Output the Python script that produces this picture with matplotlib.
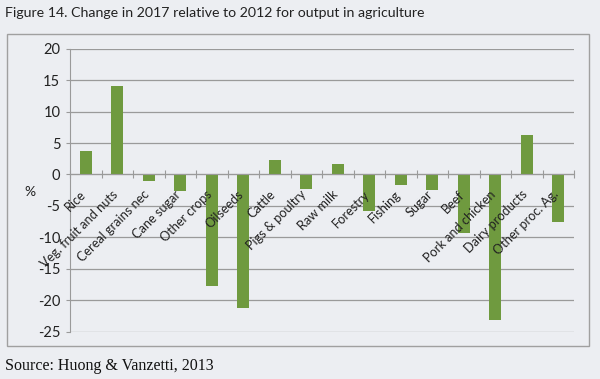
import numpy as np
import matplotlib
matplotlib.use("Agg")
import matplotlib.pyplot as plt
from matplotlib.patches import Rectangle

CATEGORIES = ["Rice", "Veg. fruit and nuts", "Cereal grains nec", "Cane sugar",
              "Other crops", "Oilseeds", "Cattle", "Pigs & poultry", "Raw milk",
              "Forestry", "Fishing", "Sugar", "Beef", "Pork and chicken",
              "Dairy products", "Other proc. Ag."]
CHANGE = [3.7, 14.1, -1.1, -2.7, -17.7, -21.3, 2.3, -2.3, 1.6,
          -5.8, -1.6, -2.5, -9.3, -23.1, 6.2, -7.6]
YTICKS = [20, 15, 10, 5, 0, -5, -10, -15, -20, -25]

BG = '#eceef2'
BAR = '#6f9a3f'
GRID = '#9a9a9a'

plt.rcParams['font.family'] = ['Lato', 'DejaVu Sans']

fig = plt.figure(figsize=(6.0, 3.79), dpi=100, facecolor=BG)
ax = fig.add_axes([70 / 600, 1 - 331.7 / 379, 504 / 600, (331.7 - 48.7) / 379])
ax.set_facecolor(BG)

x = np.arange(len(CATEGORIES))
ax.bar(x, CHANGE, width=0.37, color=BAR, zorder=3)

ax.set_xlim(-0.5, len(CATEGORIES) - 0.5)
ax.set_ylim(-25, 20)
ax.set_yticks(YTICKS)
ax.set_yticklabels([str(v) for v in YTICKS])
ax.yaxis.grid(True, color=GRID, linewidth=0.9, zorder=0)

for s in ['top', 'right']:
    ax.spines[s].set_visible(False)
ax.spines['left'].set_color(GRID)
ax.spines['bottom'].set_color(GRID)
ax.spines['bottom'].set_position(('data', 0))
ax.spines['bottom'].set_zorder(4)

ax.set_xticks(np.arange(len(CATEGORIES) + 1) - 0.5)
ax.set_xticklabels([])
ax.tick_params(axis='x', direction='inout', length=6, color=GRID)
ax.tick_params(axis='y', direction='out', length=3, color=GRID,
               labelsize=10.5, labelcolor='#222222', pad=4)

# category names sit along the zero line, rotated
for i, name in enumerate(CATEGORIES):
    ax.annotate(name, xy=(i - 0.05, 0), xytext=(0, -13), textcoords='offset points',
                rotation=45, ha='right', va='center', rotation_mode='anchor',
                fontsize=9.2, color='#222222', zorder=5)

fig.text(30 / 600, 1 - 192 / 379, '%', fontsize=10, ha='center', va='center',
         color='#222222')

fig.text(5 / 600, 1 - 13 / 379, 'Figure 14. Change in 2017 relative to 2012 for output in agriculture',
         fontsize=10.2, ha='left', va='center', color='#222222')
fig.text(5 / 600, 1 - 366 / 379, 'Source: Huong & Vanzetti, 2013',
         fontsize=11.5, ha='left', va='center', color='#111111',
         family='Liberation Serif')

fig.patches.append(Rectangle((7 / 600, 1 - 346 / 379), 582 / 600, 312 / 379,
                             transform=fig.transFigure, fill=False,
                             edgecolor='#a0a0a0', linewidth=1.0))

fig.savefig('out.png', dpi=100, facecolor=BG)
